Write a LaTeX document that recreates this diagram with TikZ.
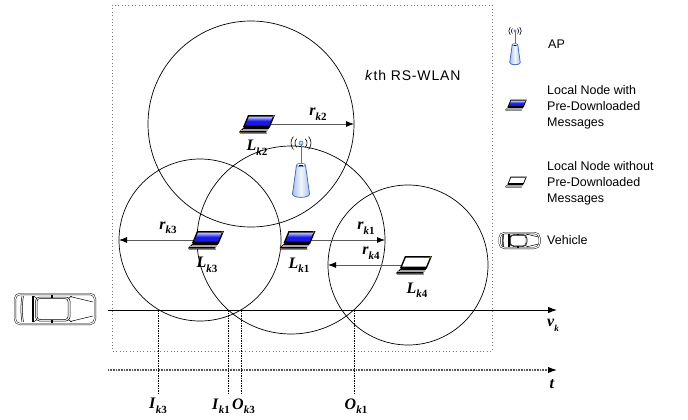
\documentclass[tikz,border=0pt]{standalone}
\usepackage{fontspec}
\setmainfont{Liberation Serif}
\setsansfont{Liberation Sans}
\usetikzlibrary{arrows.meta}

\definecolor{apblue}{RGB}{70,110,200}
\definecolor{aplight}{RGB}{170,195,235}
\definecolor{scrblue}{RGB}{25,25,235}
\definecolor{scrlight}{RGB}{200,205,255}
\definecolor{boxgray}{RGB}{120,120,120}
\definecolor{axisgray}{RGB}{90,90,90}

% bold italic symbol with a small bold subscript "k<digit>"
\newcommand{\symk}[2]{\textbf{\textit{#1}}\raisebox{-0.28em}{\fontsize{11}{11}\selectfont\textbf{\textit{k}#2}}}

\tikzset{
  % laptop whose screen is lit (node holding pre-downloaded messages)
  pics/laptopon/.style={code={
    \fill[black] (-13,3) -- (13,3) -- (9,8) -- (-18,8) -- cycle;
    \fill[black!70] (-18,8) -- (9,8) -- (10,9.5) -- (-17,9.5) -- cycle;
    \draw[gray!70, line width=0.3pt] (-14.5,5) -- (11,5) (-16,6.6) -- (10,6.6);
    \fill[black] (-9,-9) -- (18,-9) -- (13,3) -- (-14,3) -- cycle;
    \shade[top color=scrlight, bottom color=scrblue, middle color=scrblue]
      (-8,-7.5) -- (15.8,-7.5) -- (12,1.5) -- (-11.8,1.5) -- cycle;
    \fill[green!70!black] (-16.3,8.8) circle (0.7);
    \fill[red] (-14.8,8.8) circle (0.6);
    \fill[yellow!90!orange] (16.3,-8) circle (0.6);
  }},
  % laptop with a blank screen
  pics/laptopoff/.style={code={
    \fill[black] (-13,3) -- (13,3) -- (9,8) -- (-18,8) -- cycle;
    \fill[black!70] (-18,8) -- (9,8) -- (10,9.5) -- (-17,9.5) -- cycle;
    \draw[gray!70, line width=0.3pt] (-14.5,5) -- (11,5) (-16,6.6) -- (10,6.6);
    \fill[black] (-9,-9) -- (18,-9) -- (13,3) -- (-14,3) -- cycle;
    \fill[white] (-8,-7.5) -- (15.8,-7.5) -- (12,1.5) -- (-11.8,1.5) -- cycle;
    \fill[yellow!90!orange] (16.3,-8) circle (0.6);
  }},
  % access point: antenna with radio waves over a tapered body
  pics/accesspoint/.style={code={
    \draw[black, line width=0.6pt]
      ([shift={(135:6)}]0,0) arc[start angle=135,end angle=225,radius=6]
      ([shift={(140:10)}]0,0) arc[start angle=140,end angle=220,radius=10]
      ([shift={(45:6)}]0,0) arc[start angle=45,end angle=-45,radius=6]
      ([shift={(40:10)}]0,0) arc[start angle=40,end angle=-40,radius=10];
    \draw[apblue, line width=0.9pt] (0,0) -- (0,22);
    \draw[apblue, fill=aplight!60, line width=0.6pt] (0,0) circle (2);
    \shade[left color=aplight, right color=aplight, middle color=white!85!aplight]
      (-4.5,22) -- (-8.5,51) .. controls (-8.5,55.5) and (8.5,55.5) .. (8.5,51)
      -- (4.5,22) .. controls (4.5,20) and (-4.5,20) .. cycle;
    \draw[apblue, line width=0.8pt]
      (-4.5,22) -- (-8.5,51) .. controls (-8.5,55.5) and (8.5,55.5) .. (8.5,51)
      -- (4.5,22);
    \draw[apblue, fill=white, line width=0.6pt] (0,22) ellipse[x radius=4.5, y radius=1.7];
    \draw[black, line width=0.5pt] (-1.8,22.6) -- (1.8,22.6);
  }},
  % car seen from above, heading right
  pics/car/.style={code={
    \draw[line width=0.45pt, double, double distance=1.1pt, rounded corners=5pt]
      (-40,-15) rectangle (40,15);
    \draw[line width=0.5pt] (-33,-13) .. controls (-34.5,-4) and (-34.5,4) .. (-33,13);
    \draw[line width=0.5pt] (-31.5,-13) .. controls (-33,-4) and (-33,4) .. (-31.5,13);
    \draw[line width=0.5pt] (-23,-13) -- (-23,13);
    \draw[line width=0.5pt] (-21.5,-13) -- (-21.5,13);
    \draw[line width=0.5pt, rounded corners=3pt] (-18,-10.5) rectangle (13,10.5);
    \draw[line width=0.5pt, rounded corners=4pt] (-19.5,-12) rectangle (15,12);
    \draw[line width=0.5pt] (15,-12.5) -- (38,-7) (15,12.5) -- (38,7);
    \draw[line width=0.5pt] (-18,-10.5) -- (-21.5,-13) (-18,10.5) -- (-21.5,13)
      (13,-10.5) -- (17,-13) (13,10.5) -- (17,13);
    \draw[line width=1.1pt] (-3,-14) -- (-3,-11) (-3,14) -- (-3,11);
  }},
  cell/.style={circle, draw, line width=0.7pt, inner sep=0pt, outer sep=0pt},
  radiusline/.style={draw=axisgray, line width=0.8pt, -{Latex[length=8pt,width=6pt,color=black]}},
  marker/.style={black, line width=0.6pt, dash pattern=on 1.5pt off 1pt},
  sym/.style={font=\fontsize{16}{16}\selectfont, inner sep=0pt},
  legend/.style={font=\sffamily\fontsize{12.5}{16}\selectfont, align=left, anchor=west, inner sep=0pt},
  iconbox/.style={minimum width=36pt, minimum height=19pt, inner sep=0pt}
}

\begin{document}
\begin{tikzpicture}[x=1pt, y=-1pt]
\useasboundingbox (0,0) rectangle (688,420);

% k-th roadside WLAN area
\draw[boxgray, line width=0.8pt, dash pattern=on 0.8pt off 2.6pt] (112,5) rectangle (492,351);
\node[font=\sffamily\fontsize{14}{14}\selectfont, anchor=west, inner sep=0pt] (wlan) at (365,75)
  {\addfontfeatures{LetterSpace=6}\textit{k}th RS-WLAN};

% coverage areas of the local nodes
\node[cell, minimum size=206pt] (C2) at (251,124) {};
\node[cell, minimum size=162pt] (C3) at (200,240) {};
\node[cell, minimum size=188pt] (C1) at (291,240) {};
\node[cell, minimum size=160pt] (C4) at (408,265) {};

% local nodes
\node[iconbox] (Lk2) at (257,124) {};
\node[iconbox] (Lk3) at (206,240) {};
\node[iconbox] (Lk1) at (297.5,240) {};
\node[iconbox] (Lk4) at (414,265) {};
\node[minimum width=18pt, minimum height=56pt, inner sep=0pt] (AP) at (301,171) {};

% coverage radii
\draw[radiusline] (Lk2.center) -- (C2.east);
\draw[radiusline] (Lk3.center) -- (C3.west);
\draw[radiusline] (Lk1.center) -- (C1.east);
\draw[radiusline] (Lk4.center) -- (C4.west);

\pic at (Lk2) {laptopon};
\pic at (Lk3) {laptopon};
\pic at (Lk1) {laptopon};
\pic at (Lk4) {laptopoff};
\pic at (301,143) {accesspoint};

\node[sym] (nLk2) at (257,148) {\symk{L}{2}};
\node[sym] (nLk3) at (207,265) {\symk{L}{3}};
\node[sym] (nLk1) at (299,265) {\symk{L}{1}};
\node[sym] (nLk4) at (417,290) {\symk{L}{4}};
\node[sym] (rk2) at (318,114) {\symk{r}{2}};
\node[sym] (rk3) at (168,228) {\symk{r}{3}};
\node[sym] (rk1) at (366,228) {\symk{r}{1}};
\node[sym] (rk4) at (371,253) {\symk{r}{4}};

% vehicle driving along the road
\pic at (55,309) {car};
\coordinate (vs) at (108,310);
\coordinate (ve) at (557,310);
\draw[line width=0.9pt, -{Latex[length=9pt,width=6.5pt]}] (vs) -- (ve);
\node[sym] (vk) at (553,325) {\textbf{\textit{v}}\raisebox{-0.3em}{\fontsize{9}{9}\selectfont\textbf{\textit{k}}}};

% time axis
\coordinate (ts) at (108,370);
\coordinate (te) at (557,370);
\draw[axisgray, line width=1.3pt, dash pattern=on 1pt off 0.6pt,
  -{Latex[length=9pt,width=6.5pt,color=black]}] (ts) -- (te);
\node[sym] (tl) at (552,384) {\textbf{\textit{t}}};

% entry and exit instants
\coordinate (Ik3) at (158.5,310);
\coordinate (Ik1) at (228.5,310);
\coordinate (Ok3) at (241.5,310);
\coordinate (Ok1) at (354,310);
\draw[marker] (Ik3) -- ++(0,83);
\draw[marker] (Ik1) -- ++(0,83);
\draw[marker] (Ok3) -- ++(0,83);
\draw[marker] (Ok1) -- ++(0,83);
\node[sym] (lIk3) at (158,406) {\symk{I}{3}};
\node[sym, anchor=east] (lIk1) at (230,406) {\symk{I}{1}};
\node[sym, anchor=west] (lOk3) at (232,406) {\symk{O}{3}};
\node[sym] (lOk1) at (356,406) {\symk{O}{1}};

% legend
\pic[scale=0.62] at (515,31) {accesspoint};
\node[legend] (tAP) at (548,44) {AP};
\pic[scale=0.6] at (516,105) {laptopon};
\node[legend] (tOn) at (547,107) {Local Node with\\Pre-Downloaded\\Messages};
\pic[scale=0.6] at (516,182) {laptopoff};
\node[legend] (tOff) at (547,183.5) {Local Node without\\Pre-Downloaded\\Messages};
\pic[scale=0.5] at (519.5,240.5) {car};
\node[legend] (tCar) at (547,240) {Vehicle};
\end{tikzpicture}
\end{document}
